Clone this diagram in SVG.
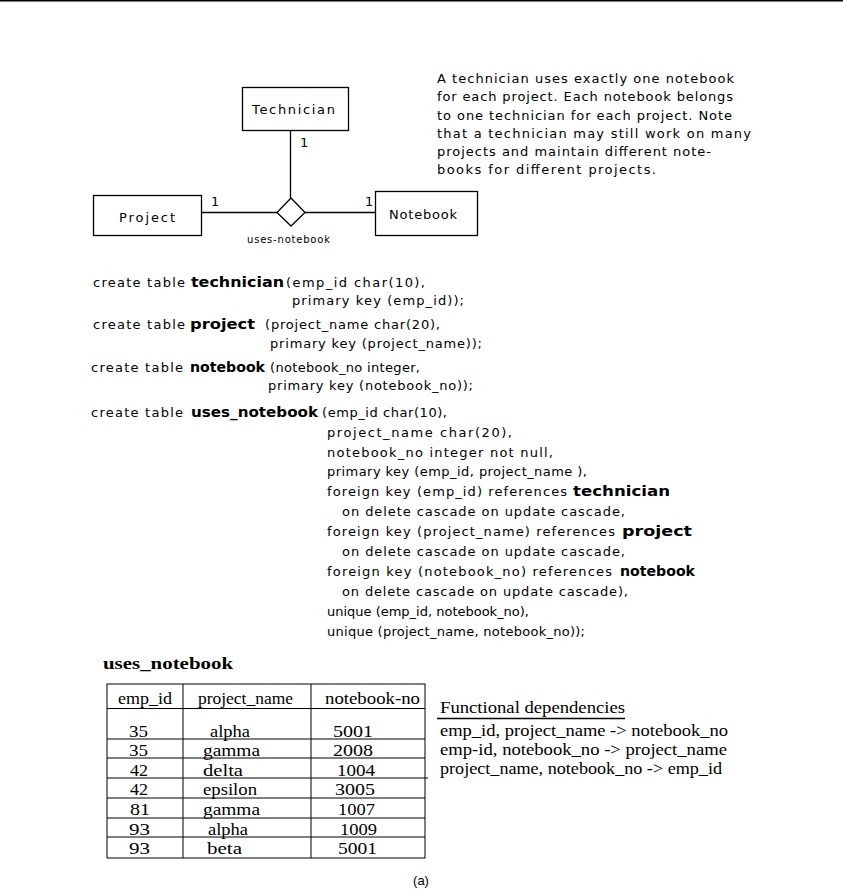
<svg xmlns="http://www.w3.org/2000/svg" width="843" height="894" viewBox="0 0 843 894">
<style>
.g{font-family:"DejaVu Sans",Verdana,sans-serif;font-size:13px;fill:#000}
.b{font-weight:bold;font-size:14px}
.sm{font-size:10px}
.s{font-family:"Liberation Serif","Times New Roman",serif;font-size:16px;fill:#000}
.box{fill:#fff;stroke:#000;stroke-width:1.3}
.ln{stroke:#000;stroke-width:1.3;fill:none}
.tl{stroke:#000;stroke-width:1;fill:none}
</style>
<rect x="0" y="0" width="843" height="1.5" fill="#000"/>

<g id="connectors">
<line class="ln" x1="290.5" y1="131" x2="290.5" y2="198"/>
<line class="ln" x1="202" y1="212.5" x2="277" y2="212.5"/>
<line class="ln" x1="305" y1="212.5" x2="375" y2="212.5"/>
<text class="g" x="300" y="147">1</text>
<text class="g" x="211" y="206">1</text>
<text class="g" x="365" y="206">1</text>
</g>

<g id="technician">
<rect class="box" x="242.5" y="87.5" width="106" height="43"/>
<text class="g" x="252" y="114" textLength="83" lengthAdjust="spacing">Technician</text>
</g>
<g id="project">
<rect class="box" x="93.5" y="195.5" width="108" height="40"/>
<text class="g" x="119" y="222" textLength="56" lengthAdjust="spacing">Project</text>
</g>
<g id="notebook">
<rect class="box" x="375.5" y="191.5" width="102" height="44"/>
<text class="g" x="389" y="219" textLength="68" lengthAdjust="spacing">Notebook</text>
</g>
<g id="uses-notebook">
<polygon class="box" points="291,198 305,212.5 291,226 277,212.5"/>
<text class="g sm" x="247" y="243" textLength="83" lengthAdjust="spacing">uses-notebook</text>
</g>

<g id="note">
<text class="g" x="437" y="83" textLength="297" lengthAdjust="spacing">A technician uses exactly one notebook</text>
<text class="g" x="437" y="101" textLength="296" lengthAdjust="spacing">for each project. Each notebook belongs</text>
<text class="g" x="437" y="119.5" textLength="295" lengthAdjust="spacing">to one technician for each project. Note</text>
<text class="g" x="437" y="137.5" textLength="314" lengthAdjust="spacing">that a technician may still work on many</text>
<text class="g" x="437" y="155.5" textLength="274" lengthAdjust="spacing">projects and maintain different note-</text>
<text class="g" x="437" y="174" textLength="219" lengthAdjust="spacing">books for different projects.</text>
</g>

<g id="sql">
<text class="g" x="93" y="287" textLength="92" lengthAdjust="spacing">create table</text>
<text class="g b" x="191" y="287" textLength="93" lengthAdjust="spacingAndGlyphs">technician</text>
<text class="g" x="286" y="287" textLength="139" lengthAdjust="spacing">(emp_id  char(10),</text>
<text class="g" x="292" y="305" textLength="172" lengthAdjust="spacing">primary key (emp_id));</text>

<text class="g" x="93" y="329" textLength="92" lengthAdjust="spacing">create table</text>
<text class="g b" x="190" y="329" textLength="65" lengthAdjust="spacingAndGlyphs">project</text>
<text class="g" x="265" y="329" textLength="175" lengthAdjust="spacing">(project_name  char(20),</text>
<text class="g" x="270" y="348" textLength="212" lengthAdjust="spacing">primary key (project_name));</text>

<text class="g" x="91" y="372" textLength="92" lengthAdjust="spacing">create table</text>
<text class="g b" x="190" y="372" textLength="75" lengthAdjust="spacingAndGlyphs">notebook</text>
<text class="g" x="270" y="372" textLength="150" lengthAdjust="spacing">(notebook_no  integer,</text>
<text class="g" x="268" y="390" textLength="205" lengthAdjust="spacing">primary key (notebook_no));</text>

<text class="g" x="91" y="417" textLength="92" lengthAdjust="spacing">create table</text>
<text class="g b" x="191" y="417" textLength="127" lengthAdjust="spacingAndGlyphs">uses_notebook</text>
<text class="g" x="322" y="417" textLength="125" lengthAdjust="spacing">(emp_id char(10),</text>
<text class="g" x="327" y="437" textLength="185" lengthAdjust="spacing">project_name  char(20),</text>
<text class="g" x="327" y="456.5" textLength="226" lengthAdjust="spacing">notebook_no  integer not null,</text>
<text class="g" x="327" y="476" textLength="260" lengthAdjust="spacing">primary key (emp_id, project_name ),</text>
<text class="g" x="327" y="496" textLength="240" lengthAdjust="spacing">foreign key (emp_id) references</text>
<text class="g b" x="573" y="496" textLength="97" lengthAdjust="spacingAndGlyphs">technician</text>
<text class="g" x="342" y="516" textLength="283" lengthAdjust="spacing">on delete cascade on update cascade,</text>
<text class="g" x="327" y="536" textLength="288" lengthAdjust="spacing">foreign key (project_name) references</text>
<text class="g b" x="622" y="536" textLength="70" lengthAdjust="spacingAndGlyphs">project</text>
<text class="g" x="342" y="556" textLength="283" lengthAdjust="spacing">on delete cascade on update cascade,</text>
<text class="g" x="327" y="576" textLength="285" lengthAdjust="spacing">foreign key (notebook_no) references</text>
<text class="g b" x="620" y="576" textLength="75" lengthAdjust="spacingAndGlyphs">notebook</text>
<text class="g" x="342" y="596" textLength="286" lengthAdjust="spacing">on delete cascade on update cascade),</text>
<text class="g" x="327" y="616" textLength="202" lengthAdjust="spacing">unique (emp_id, notebook_no),</text>
<text class="g" x="327" y="636" textLength="258" lengthAdjust="spacing">unique (project_name, notebook_no));</text>
</g>

<g id="uses_notebook_table">
<text class="s" x="103" y="669" font-weight="bold" font-size="15" textLength="130" lengthAdjust="spacingAndGlyphs">uses_notebook</text>
<rect class="tl" x="107" y="684" width="318" height="174"/>
<line class="tl" x1="183" y1="684" x2="183" y2="858"/>
<line class="tl" x1="311" y1="684" x2="311" y2="858"/>
<line class="tl" x1="107" y1="708.5" x2="425" y2="708.5"/>
<line class="tl" x1="107" y1="739" x2="425" y2="739"/>
<line class="tl" x1="107" y1="758" x2="425" y2="758"/>
<line class="tl" x1="107" y1="778" x2="428" y2="778"/>
<line class="tl" x1="107" y1="798" x2="425" y2="798"/>
<line class="tl" x1="107" y1="818" x2="425" y2="818"/>
<line class="tl" x1="107" y1="837" x2="425" y2="837"/>
<text class="s" x="118" y="704" textLength="54" lengthAdjust="spacingAndGlyphs">emp_id</text>
<text class="s" x="198" y="704" textLength="95" lengthAdjust="spacingAndGlyphs">project_name</text>
<text class="s" x="325" y="704" textLength="95" lengthAdjust="spacingAndGlyphs">notebook-no</text>

<text class="s" x="129" y="737" textLength="19" lengthAdjust="spacingAndGlyphs">35</text>
<text class="s" x="210" y="737" textLength="40" lengthAdjust="spacingAndGlyphs">alpha</text>
<text class="s" x="333" y="737" textLength="40" lengthAdjust="spacingAndGlyphs">5001</text>

<text class="s" x="129" y="756" textLength="19" lengthAdjust="spacingAndGlyphs">35</text>
<text class="s" x="203" y="756" textLength="57" lengthAdjust="spacingAndGlyphs">gamma</text>
<text class="s" x="333" y="756" textLength="40" lengthAdjust="spacingAndGlyphs">2008</text>

<text class="s" x="130" y="776" textLength="18" lengthAdjust="spacingAndGlyphs">42</text>
<text class="s" x="203" y="776" textLength="40" lengthAdjust="spacingAndGlyphs">delta</text>
<text class="s" x="337" y="776" textLength="38" lengthAdjust="spacingAndGlyphs">1004</text>

<text class="s" x="130" y="795" textLength="18" lengthAdjust="spacingAndGlyphs">42</text>
<text class="s" x="203" y="795" textLength="54" lengthAdjust="spacingAndGlyphs">epsilon</text>
<text class="s" x="335" y="795" textLength="40" lengthAdjust="spacingAndGlyphs">3005</text>

<text class="s" x="130" y="815" textLength="20" lengthAdjust="spacingAndGlyphs">81</text>
<text class="s" x="203" y="815" textLength="57" lengthAdjust="spacingAndGlyphs">gamma</text>
<text class="s" x="338" y="815" textLength="37" lengthAdjust="spacingAndGlyphs">1007</text>

<text class="s" x="129" y="835" textLength="21" lengthAdjust="spacingAndGlyphs">93</text>
<text class="s" x="208" y="835" textLength="40" lengthAdjust="spacingAndGlyphs">alpha</text>
<text class="s" x="340" y="835" textLength="37" lengthAdjust="spacingAndGlyphs">1009</text>

<text class="s" x="129" y="854" textLength="21" lengthAdjust="spacingAndGlyphs">93</text>
<text class="s" x="207" y="854" textLength="35" lengthAdjust="spacingAndGlyphs">beta</text>
<text class="s" x="338" y="854" textLength="39" lengthAdjust="spacingAndGlyphs">5001</text>
</g>

<g id="functional_dependencies">
<text class="s" x="440" y="713" textLength="185" lengthAdjust="spacingAndGlyphs">Functional dependencies</text>
<line x1="437" y1="718.5" x2="625" y2="718.5" stroke="#000" stroke-width="1.5"/>
<text class="s" x="440" y="736" textLength="288" lengthAdjust="spacingAndGlyphs">emp_id, project_name -&gt; notebook_no</text>
<text class="s" x="440" y="755" textLength="287" lengthAdjust="spacingAndGlyphs">emp-id, notebook_no -&gt; project_name</text>
<text class="s" x="440" y="774" textLength="282" lengthAdjust="spacingAndGlyphs">project_name, notebook_no -&gt; emp_id</text>
</g>

<text x="421" y="885" text-anchor="middle" font-family="Liberation Sans, Arial, sans-serif" font-size="13">(a)</text>
</svg>
